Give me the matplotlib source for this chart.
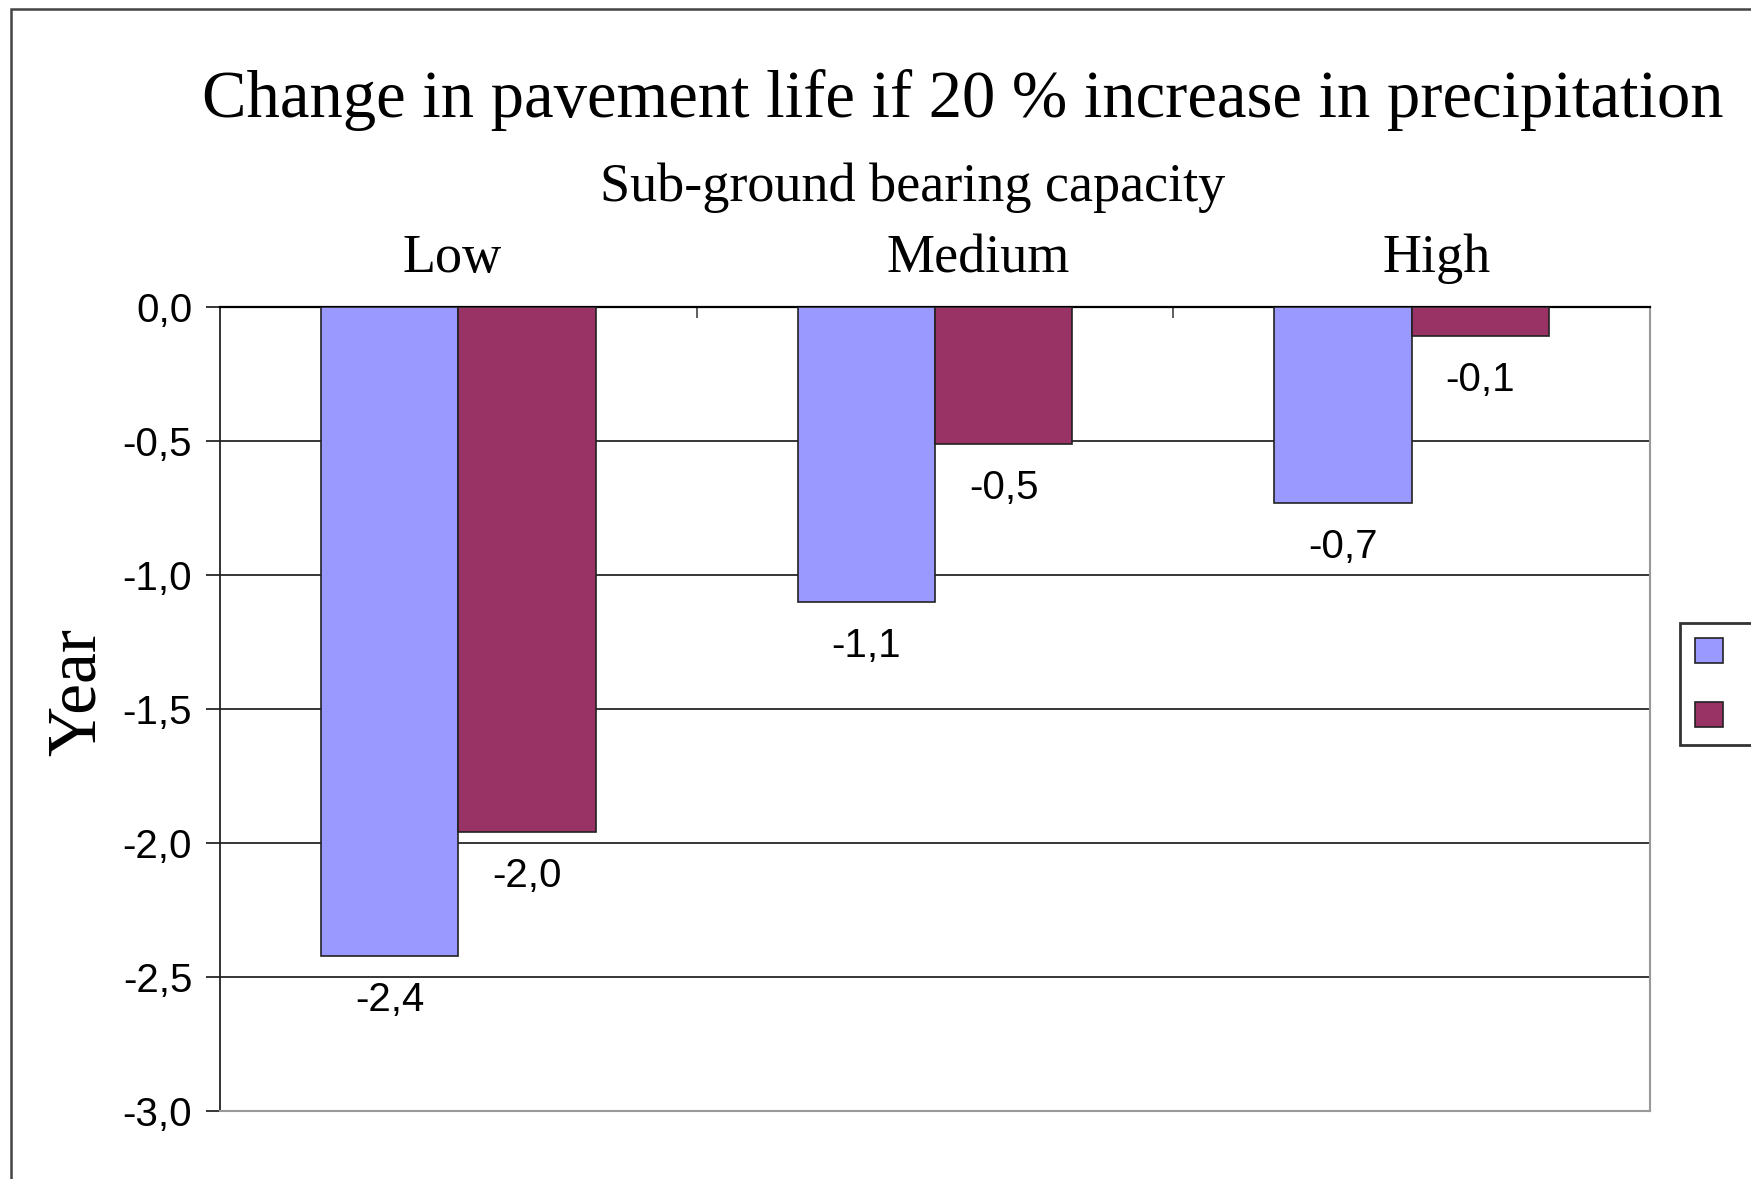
import matplotlib.pyplot as plt
import matplotlib.patches as mpatches
from matplotlib.ticker import FuncFormatter, MultipleLocator
import numpy as np

# ── Datos ──
categorias = ['Low', 'Medium', 'High']
serie_a = [-2.42, -1.10, -0.73]   # azul
serie_b = [-1.96, -0.51, -0.11]   # granate

color_a = '#9999FF'
color_b = '#993366'

W, H = 1751, 1179
fig = plt.figure(figsize=(W / 100, H / 100), dpi=100)
ax = fig.add_axes([220 / W, 1 - 1111 / H, 1430 / W, 804 / H])

x = np.arange(len(categorias))
ancho = 0.288
barras_a = ax.bar(x - ancho / 2, serie_a, ancho, color=color_a,
                  edgecolor='#222222', linewidth=1.2, zorder=3)
barras_b = ax.bar(x + ancho / 2, serie_b, ancho, color=color_b,
                  edgecolor='#222222', linewidth=1.2, zorder=3)

# etiquetas de valor debajo de cada barra
for barras in (barras_a, barras_b):
    for b in barras:
        v = b.get_height()
        ax.annotate(f'{v:.1f}'.replace('.', ','),
                    (b.get_x() + b.get_width() / 2, v),
                    textcoords='offset points', xytext=(0, -18),
                    ha='center', va='top', fontsize=29,
                    family='Liberation Sans', color='black')

# ── Ejes ──
ax.set_xlim(-0.5, len(categorias) - 0.5)
ax.set_ylim(-3.0, 0.0)
ax.yaxis.set_major_locator(MultipleLocator(0.5))
ax.yaxis.set_major_formatter(FuncFormatter(lambda v, p: f'{v:.1f}'.replace('.', ',')))
ax.grid(axis='y', color='black', linewidth=1.1, zorder=0)
ax.tick_params(axis='y', direction='out', length=10, width=1.1, pad=10,
               labelsize=29, colors='black')
for lab in ax.get_yticklabels():
    lab.set_family('Liberation Sans')

ax.xaxis.tick_top()
ax.set_xticks([])
ax.set_xticks([0.5, 1.5], minor=True)
ax.tick_params(axis='x', which='minor', direction='in', length=8, width=1.1,
               color='#333333')

ax.spines['top'].set_color('black')
ax.spines['top'].set_linewidth(1.6)
ax.spines['left'].set_color('#222222')
ax.spines['left'].set_linewidth(1.3)
ax.spines['right'].set_color('#999999')
ax.spines['bottom'].set_color('#999999')
ax.spines['right'].set_linewidth(1.5)
ax.spines['bottom'].set_linewidth(1.5)

# ── Textos ──
serif = 'Liberation Serif'
fig.text(963 / W, 1 - 100 / H,
         'Change in pavement life if 20 % increase in precipitation',
         ha='center', va='center', fontsize=48, family=serif)
fig.text(913 / W, 1 - 188 / H, 'Sub-ground bearing capacity',
         ha='center', va='center', fontsize=39, family=serif)
pos_cat = [452, 978, 1437]
for px, nombre in zip(pos_cat, categorias):
    fig.text(px / W, 1 - 259 / H, nombre, ha='center', va='center',
             fontsize=39, family=serif)
fig.text(78 / W, 1 - 692 / H, 'Year', ha='center', va='center',
         rotation=90, fontsize=50, family=serif)

# ── Marco exterior ──
fig.patches.append(mpatches.Rectangle((11 / W, -0.1), 1.2, 1.1 - 9 / H,
                                      transform=fig.transFigure, fill=False,
                                      edgecolor='#444444', linewidth=1.8))

# ── Leyenda (recortada por el borde derecho) ──
fig.legend(handles=[barras_a, barras_b], labels=['', ''],
           loc='center left', bbox_to_anchor=(1680 / W, 1 - 684 / H),
           borderaxespad=0, fontsize=20, handlelength=1.0, handleheight=1.0,
           handletextpad=3, labelspacing=1.3, borderpad=0.55,
           frameon=True, fancybox=False, edgecolor='black')
leg = fig.legends[0]
leg.get_frame().set_linewidth(2)

fig.savefig('out.png', dpi=100, facecolor='white')
